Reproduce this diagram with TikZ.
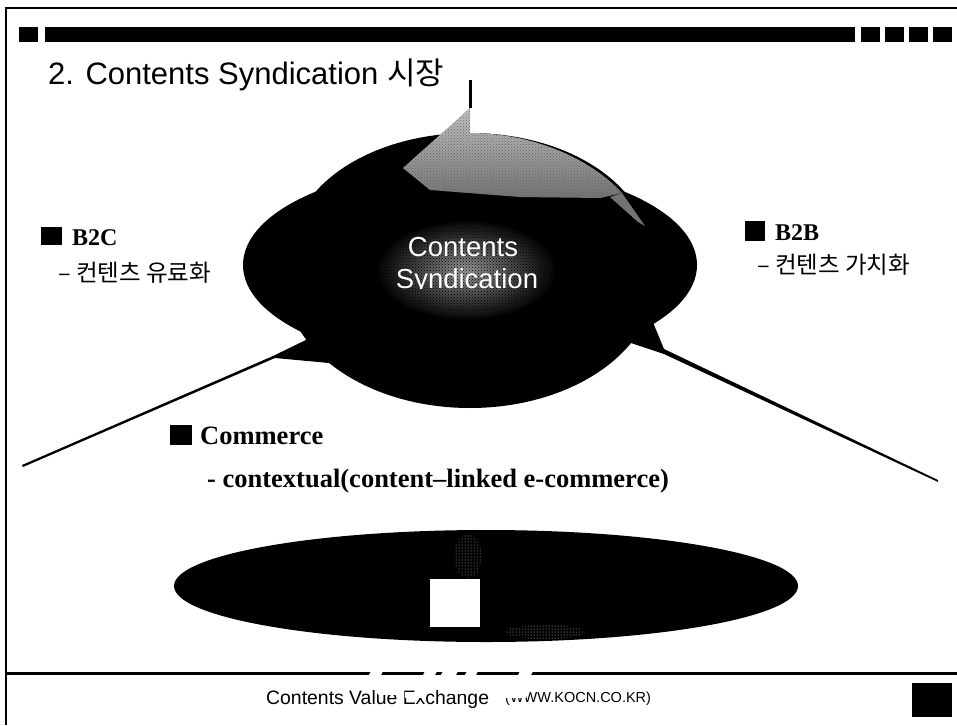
\documentclass[tikz,border=0pt]{standalone}
\usepackage{fontspec}
\setmainfont{Liberation Sans}
\newfontfamily\serifbf[BoldFont=Liberation Serif Bold]{Liberation Serif}
\newfontfamily\kr{Noto Sans CJK KR}
\usetikzlibrary{patterns}
\tikzset{
  bar/.style={fill=black,draw=none},
  blob/.style={fill=black,draw=none},
  head/.style={anchor=west,inner sep=0pt,font=\fontsize{24}{24}\serifbf\bfseries},
  sub/.style={anchor=west,inner sep=0pt,font=\fontsize{23.5}{24}\kr},
  comm/.style={anchor=west,inner sep=0pt,font=\fontsize{26.5}{27}\serifbf\bfseries},
  wtext/.style={inner sep=0pt,text=white,font=\fontsize{27.5}{28}\selectfont},
}
\begin{document}
\begin{tikzpicture}[x=1pt,y=-1pt]
\useasboundingbox[fill=white] (0,0) rectangle (957,725);
% frame
\draw[line width=2pt] (6,725) -- (6,8) -- (957,8);
% header bars
\fill[bar] (19,27) rectangle (38,42);
\fill[bar] (45,27) rectangle (855,42);
\foreach \x in {861,885,909,933} \fill[bar] (\x,27) rectangle +(19,15);
% title
\node[anchor=west,inner sep=0pt,font=\fontsize{31}{31}\selectfont] (title) at (48,75) {2. Contents Syndication {\kr 시장}};
% lines
\coordinate (topA) at (470,80);
\coordinate (topB) at (470,108);
\draw[line width=3pt] (topA) -- (topB);
\coordinate (lA) at (22,465);
\coordinate (rA) at (938,482);
\fill[blob] (lA) -- (273,356) -- (310,338) -- (340,364) -- (275,358) -- (23,467) -- cycle;
\fill[blob] (rA) -- (664,354) -- (628,342) -- (652,320) -- (664,349) -- (938,480) -- cycle;
% main body
\fill[blob] (470,265) ellipse [x radius=227,y radius=100];
\fill[blob] (470,250) ellipse [x radius=178,y radius=117];
\fill[blob] (470,280) ellipse [x radius=185,y radius=128];
% gray top
\path[top color=gray!45,bottom color=gray!90!black]
  (470,108) -- (403,168) -- (430,190) -- (520,197) -- (600,198) -- (622,193)
  .. controls (590,158) and (532,133) .. (470,133) -- cycle;
\path[pattern=crosshatch dots,pattern color=black!60]
  (470,108) -- (403,168) -- (430,190) -- (520,197) -- (600,198) -- (622,193)
  .. controls (590,158) and (532,133) .. (470,133) -- cycle;
\fill[black!55] (622,193) -- (645,226) -- (638,222) -- (610,197) -- cycle;
% central gray
\path[inner color=gray!80,outer color=black] (466,270) ellipse [x radius=90,y radius=50];
\path[pattern=crosshatch dots,pattern color=black] (466,270) ellipse [x radius=82,y radius=42];
% central text
\node[wtext] (cont) at (463,247) {Contents};
\begin{scope}
\clip (380,260) rectangle (560,288) ;
\node[wtext] (synd) at (467,281) {Syndication};
\end{scope}
% labels
\fill[bar] (41,227) rectangle (62,245);
\node[head] (b2c) at (72,238) {B2C};
\node[sub] (b2cs) at (58,273) {– 컨텐츠 유료화};
\fill[bar] (745,221) rectangle (765,241);
\node[head] (b2b) at (775,233) {B2B};
\node[sub] (b2bs) at (757,265) {– 컨텐츠 가치화};
\fill[bar] (170,425) rectangle (192,445);
\node[comm] (com) at (200,436) {Commerce};
\node[comm] (coms) at (207,481) {- contextual(content–linked e-commerce)};
% lower ellipse
\fill[blob] (486,586) ellipse [x radius=312,y radius=56];
\path[pattern=dots,pattern color=gray!60] (468,556) ellipse [x radius=14,y radius=22];
\path[pattern=dots,pattern color=gray!45] (545,632) ellipse [x radius=40,y radius=7];
\fill[white] (430,579) rectangle (480,627);
% bottom rule
\draw[line width=3pt] (6,673) -- (957,673);
\foreach \x/\w in {371/12,425/12,443/15,467/11,520/13} \fill[white] (\x,671) -- (\x+\w,671) -- (\x+\w-2,675) -- (\x-2,675) -- cycle;
% footer
\node[anchor=west,inner sep=0pt,font=\fontsize{19.4}{20}\selectfont] (foot) at (266,699) {Contents Value Exchange};
\node[anchor=west,inner sep=0pt,font=\fontsize{14.5}{15}\selectfont] (url) at (505,699) {(WWW.KOCN.CO.KR)};
\foreach \x/\y/\w/\h in {378/689/20/6,405/692/20/6,450/689/20/5,506/691/20/7} \fill[white] (\x,\y) rectangle +(\w,\h);
\fill[bar] (912,683) rectangle (952,717);
\end{tikzpicture}
\end{document}
